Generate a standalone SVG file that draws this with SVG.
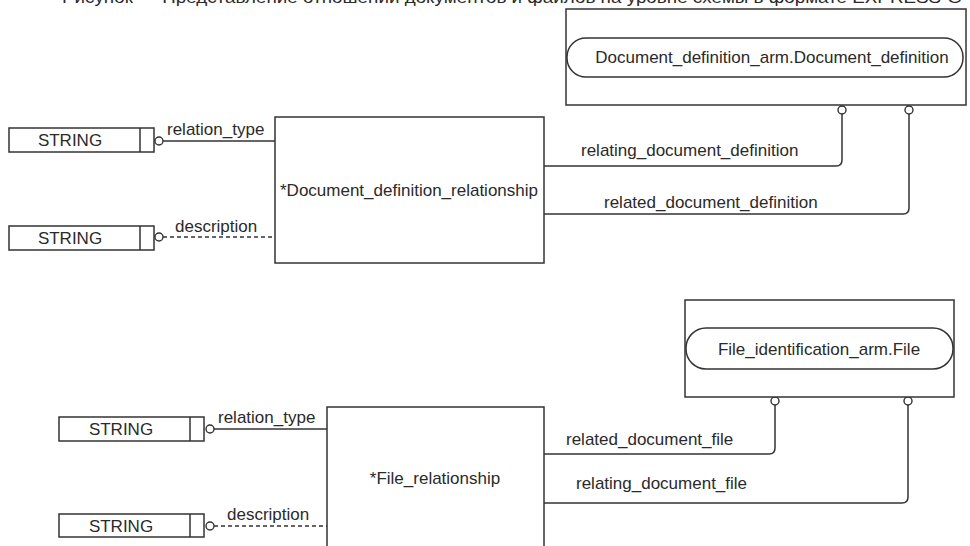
<svg xmlns="http://www.w3.org/2000/svg" width="970" height="546" viewBox="0 0 970 546">
<style>
text{font-family:"Liberation Sans",Arial,sans-serif;font-size:17px;fill:#2a2a2a}
.b{fill:#fff;stroke:#333;stroke-width:1.5}
.l{fill:none;stroke:#333;stroke-width:1.5}
.d{fill:none;stroke:#333;stroke-width:1.5;stroke-dasharray:4 3}
.c{fill:#fff;stroke:#333;stroke-width:1.4}
.m{text-anchor:middle}
</style>
<rect width="970" height="546" fill="#fff"/>
<text id="caption" x="62" y="3" font-size="18" textLength="900" lengthAdjust="spacingAndGlyphs">Рисунок — Представление отношений документов и файлов на уровне схемы в формате EXPRESS-G</text>

<g id="connectors">
  <path class="l" d="M163,141 H275"/>
  <path class="d" d="M163,237 H275"/>
  <path class="l" d="M544,166 H836 Q842,166 842,160 V114"/>
  <path class="l" d="M544,214 H903 Q909,214 909,208 V114"/>
  <path class="l" d="M214,429 H327"/>
  <path class="d" d="M214,526 H327"/>
  <path class="l" d="M544,454 H769 Q775,454 775,448 V405"/>
  <path class="l" d="M544,503 H902 Q908,503 908,497 V405"/>
  <circle class="c" cx="159" cy="141" r="4"/>
  <circle class="c" cx="159" cy="237" r="4"/>
  <circle class="c" cx="842" cy="110" r="4"/>
  <circle class="c" cx="909" cy="110" r="4"/>
  <circle class="c" cx="210" cy="429" r="4"/>
  <circle class="c" cx="210" cy="526" r="4"/>
  <circle class="c" cx="775" cy="401" r="4"/>
  <circle class="c" cx="908" cy="401" r="4"/>
  <text x="167" y="135">relation_type</text>
  <text x="175" y="232">description</text>
  <text x="581" y="156">relating_document_definition</text>
  <text x="604" y="208">related_document_definition</text>
  <text x="218" y="423">relation_type</text>
  <text x="227" y="520">description</text>
  <text x="566" y="445">related_document_file</text>
  <text x="576" y="489">relating_document_file</text>
</g>

<g id="string1">
  <rect class="b" x="9" y="128" width="145" height="24"/>
  <path class="l" d="M140,128 V152"/>
  <text class="m" x="70" y="146">STRING</text>
</g>
<g id="string2">
  <rect class="b" x="9" y="226" width="145" height="24"/>
  <path class="l" d="M140,226 V250"/>
  <text class="m" x="70" y="244">STRING</text>
</g>
<g id="doc_def_rel">
  <rect class="b" x="275" y="117" width="269" height="146"/>
  <text class="m" x="409" y="196">*Document_definition_relationship</text>
</g>
<g id="doc_def">
  <rect class="b" x="566" y="9" width="400" height="96"/>
  <rect class="b" x="567" y="38" width="396" height="39" rx="19" ry="19"/>
  <text class="m" x="772" y="63">Document_definition_arm.Document_definition</text>
</g>

<g id="string3">
  <rect class="b" x="59" y="417" width="145" height="24"/>
  <path class="l" d="M190,417 V441"/>
  <text class="m" x="121" y="435">STRING</text>
</g>
<g id="string4">
  <rect class="b" x="59" y="514" width="145" height="23"/>
  <path class="l" d="M190,514 V537"/>
  <text class="m" x="121" y="532">STRING</text>
</g>
<g id="file_rel">
  <rect class="b" x="327" y="407" width="217" height="160"/>
  <text class="m" x="435" y="484">*File_relationship</text>
</g>
<g id="file">
  <rect class="b" x="685" y="300" width="269" height="97"/>
  <rect class="b" x="686" y="328" width="267" height="41" rx="20" ry="20"/>
  <text class="m" x="819" y="355">File_identification_arm.File</text>
</g>
</svg>
